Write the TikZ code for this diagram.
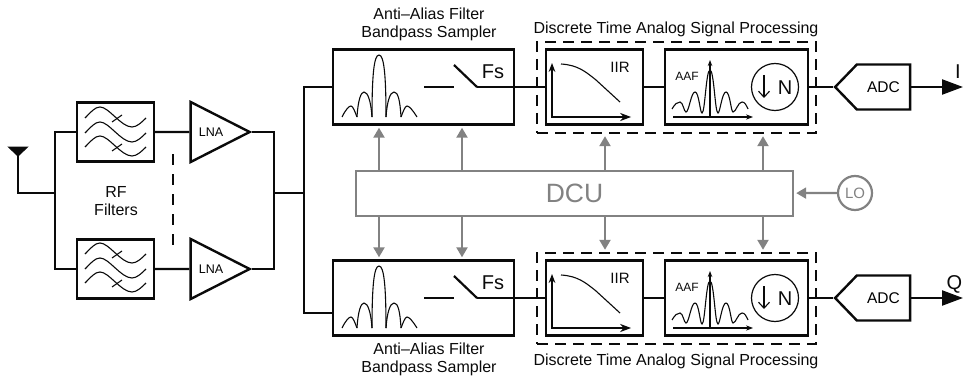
\documentclass[tikz,border=0pt]{standalone}
\usepackage{fontspec}
\setmainfont{Liberation Sans}
\usepackage{xcolor}
\usetikzlibrary{arrows.meta, calc, positioning, shapes.geometric, shapes.symbols}
\definecolor{dcugray}{RGB}{130, 130, 130}
\definecolor{inkblack}{RGB}{10, 10, 10}
% filter response, origin at the top left corner of the box
\newcommand{\rfwaves}{%
	\foreach \wy/\wt in {0/1, 15/0, 29/1}{
		\draw[trace] (8,\wy+15) .. controls (14,\wy+9) and (18,\wy+4) .. (23,\wy+4)
			.. controls (32,\wy+4) and (44,\wy+24) .. (55,\wy+24)
			.. controls (60,\wy+24) and (65,\wy+19) .. (69,\wy+15);
		\ifnum\wt=1
			\draw[trace] (35,\wy+19)--(45,\wy+12);
		\fi
	}}
% sinc lobes and switch blade of the sampler
\newcommand{\samplerglyph}{%
	\draw[trace] (342,117) .. controls (346,109) and (349,106) .. (351,106)
		.. controls (353,106) and (355,112) .. (357,117);
	\draw[trace] (357,117) .. controls (358,100) and (361,92) .. (364,92)
		.. controls (368,92) and (371,102) .. (372,117);
	\draw[trace] (372,117) .. controls (372,75) and (374,55) .. (379,55)
		.. controls (384,55) and (386,75) .. (386,117);
	\draw[trace] (386,117) .. controls (387,102) and (390,92) .. (394,92)
		.. controls (398,92) and (400,100) .. (401,117);
	\draw[trace] (401,117) .. controls (403,112) and (405,106) .. (407,106)
		.. controls (409,106) and (412,109) .. (417,117);
	\draw[wire] (424,87)--(454,87);
	\draw[wire] (454,65)--(477,87);}
\newcommand{\iirglyph}{%
	\draw[{Stealth[length=9pt]}-{Stealth[length=11pt]}, trace] (552,63)--(552,117)--(631,117);
	\draw[trace] (561,64) .. controls (578,65) and (586,72) .. (596,80) -- (620,102);}
\newcommand{\aafglyph}{%
	\draw[-{Stealth[length=7pt]}, trace] (673,117)--(753,117);
	\draw[-{Stealth[length=6pt]}, trace, line width=1.4pt] (710,117)--(710,60);
	\draw[trace] (672,109) .. controls (675,104) and (677,102) .. (680,102)
		.. controls (683,102) and (684,112) .. (686,112)
		.. controls (689,112) and (691,92) .. (695,92)
		.. controls (699,92) and (700,113) .. (702,113)
		.. controls (705,113) and (706,70) .. (710,70)
		.. controls (714,70) and (715,113) .. (718,113)
		.. controls (720,113) and (722,92) .. (726,92)
		.. controls (730,92) and (731,112) .. (733,112)
		.. controls (736,112) and (738,102) .. (742,102)
		.. controls (745,102) and (746,105) .. (748,109);
	\draw[-{Straight Barb[length=6pt,width=11pt]}, trace] (764,75)--(764,98);}
\tikzset{
	trace/.style={inkblack, line width=1.1pt},
	wire/.style={inkblack, line width=2.2pt},
	box/.style={draw=inkblack, line width=2.4pt, minimum width=#1, minimum height=75pt, inner sep=0pt},
	lna/.style={draw=inkblack, line width=2.4pt, isosceles triangle, isosceles triangle apex angle=54,
		isosceles triangle stretches, minimum width=60pt, minimum height=59pt, inner sep=0pt,
		font=\fontsize{12.5}{12.5}\selectfont},
	adcbox/.style={draw=inkblack, line width=2.4pt, signal, signal to=west, signal from=nowhere,
		signal pointer angle=92, minimum width=75pt, minimum height=45pt, inner sep=0pt,
		font=\fontsize{15.5}{15.5}\selectfont},
	decim/.style={draw=inkblack, line width=1.2pt, circle, minimum size=47pt, inner sep=0pt},
	dsp/.style={draw=inkblack, line width=2.4pt, dash pattern=on 11pt off 7pt, minimum width=279pt,
		minimum height=91pt, inner sep=0pt},
	ctl/.style={-{Triangle[length=10pt,width=11pt]}, dcugray, line width=2.2pt, shorten >=2pt},
	lab/.style={font=\fontsize{16}{18}\selectfont, align=center, text=inkblack},
	tag/.style={font=\fontsize{#1}{#1}\selectfont, text=inkblack},
	big/.style={font=\fontsize{20}{20}\selectfont, text=inkblack},
	outarrow/.style={-{Triangle[length=21pt,width=15pt]}, inkblack, line width=2.2pt},
}

\begin{document}
\begin{tikzpicture}[x=1pt, y=-1pt]
	\useasboundingbox (0,0) rectangle (963,377);

	%--- RF front end ---
	\coordinate (ant) at (18,150);
	\coordinate (split) at (55,193);
	\coordinate (merge) at (274,193);
	\coordinate (bus) at (304,193);
	\draw[inkblack, line width=1pt, fill=inkblack] (8.5,147)--(27.5,147)--(18,156)--cycle;
	\draw[wire] (ant)|-(split);
	\node[box=77pt, minimum height=59pt] (filtA) at (115.5,132) {};
	\node[box=77pt, minimum height=59pt] (filtB) at (115.5,269) {};
	\begin{scope}[shift={(77,103)}]\rfwaves\end{scope}
	\begin{scope}[shift={(77,239)}]\rfwaves\end{scope}
	\node[lna] (lnaA) at (211,132) {LNA};
	\node[lna] (lnaB) at (211,269) {LNA};
	\node[lab] (rfname) at (116,201) {RF\\Filters};
	\draw[inkblack, line width=1.2pt, dash pattern=on 11pt off 9pt] (173,154)--(173,245);
	\draw[wire] (filtA.west)-|(split)|-(filtB.west);
	\draw[wire] (filtA.east)--(lnaA.west);
	\draw[wire] (filtB.east)--(lnaB.west);
	\draw[wire] (lnaA.east)-|(merge)|-(lnaB.east);
	\draw[wire] (merge)--(bus);

	%--- Upper chain ---
	\begin{scope}
		\node[box=181pt] (sampU) at (423.5,87) {};
		\node[box=97pt] (iirU) at (594.5,87) {};
		\node[box=143pt] (aafU) at (736.5,87) {};
		\node[adcbox] (adcU) at (883.5,87) {ADC};
		\node[decim] (decU) at (775,87) {};
		\samplerglyph
		\iirglyph
		\aafglyph
		\node[big] (fsU) at (493,72) {Fs};
		\node[tag=15] (iirtxtU) at (620,67) {IIR};
		\node[tag=12] (aaftxtU) at (687,76) {AAF};
		\node[big] (downU) at (785,88) {N};
		\node[dsp] (dspU) at (676.5,87.5) {};
		\node[lab] (samptxtU) at (429,24) {Anti–Alias Filter\\Bandpass Sampler};
		\node[lab] (dsptxtU) at (676,29.5) {Discrete Time Analog Signal Processing};
		\coordinate (pivU) at (477,87);
		\coordinate (inU) at (304,87);
		\coordinate (endU) at (963,87);
		\node[big] (iU) at (958,72) {I};
		\draw[wire] (pivU)--(iirU.west);
		\draw[wire] (iirU.east)--(aafU.west);
		\draw[wire] (aafU.east)--(adcU.west);
		\draw[outarrow] (adcU.east)--(endU);
		\draw[wire] (bus)--(inU)--(sampU.west);
	\end{scope}

	%--- Lower chain ---
	\begin{scope}[yshift=-211pt]
		\node[box=181pt] (sampL) at (423.5,87) {};
		\node[box=97pt] (iirL) at (594.5,87) {};
		\node[box=143pt] (aafL) at (736.5,87) {};
		\node[adcbox] (adcL) at (883.5,87) {ADC};
		\node[decim] (decL) at (775,87) {};
		\samplerglyph
		\iirglyph
		\aafglyph
		\node[big] (fsL) at (493,72) {Fs};
		\node[tag=15] (iirtxtL) at (620,67) {IIR};
		\node[tag=12] (aaftxtL) at (687,76) {AAF};
		\node[big] (downL) at (785,88) {N};
		\node[dsp] (dspL) at (676.5,87.5) {};
		\node[lab] (samptxtL) at (429,148.5) {Anti–Alias Filter\\Bandpass Sampler};
		\node[lab] (dsptxtL) at (676,150) {Discrete Time Analog Signal Processing};
		\coordinate (pivL) at (477,87);
		\coordinate (inL) at (304,102);
		\coordinate (endL) at (963,87);
		\node[big] (qL) at (954.5,73) {Q};
		\draw[wire] (pivL)--(iirL.west);
		\draw[wire] (iirL.east)--(aafL.west);
		\draw[wire] (aafL.east)--(adcL.west);
		\draw[outarrow] (adcL.east)--(endL);
		\draw[wire] (bus)--(inL)--(sampL.west |- inL);
	\end{scope}

	%--- DCU and control lines ---
	\node[draw=dcugray, line width=2.4pt, minimum width=437pt, minimum height=45pt, text=dcugray,
		font=\fontsize{26.5}{26.5}\selectfont] (dcu) at (574.5,193.5) {DCU};
	\node[draw=dcugray, line width=2.2pt, circle, minimum size=34pt, inner sep=0pt, text=dcugray,
		font=\fontsize{15}{15}\selectfont] (lo) at (855,193) {LO};
	\draw[ctl] (lo)--(dcu);
	\coordinate (ctlA) at (379,0);
	\coordinate (ctlB) at (462,0);
	\coordinate (ctlC) at (605,0);
	\coordinate (ctlD) at (763,0);
	\draw[ctl] (dcu.north -| ctlA)--(ctlA |- sampU.south);
	\draw[ctl] (dcu.north -| ctlB)--(ctlB |- sampU.south);
	\draw[ctl] (dcu.north -| ctlC)--(ctlC |- dspU.south);
	\draw[ctl] (dcu.north -| ctlD)--(ctlD |- dspU.south);
	\draw[ctl] (dcu.south -| ctlA)--(ctlA |- sampL.north);
	\draw[ctl] (dcu.south -| ctlB)--(ctlB |- sampL.north);
	\draw[ctl] (dcu.south -| ctlC)--(ctlC |- dspL.north);
	\draw[ctl] (dcu.south -| ctlD)--(ctlD |- dspL.north);
\end{tikzpicture}
\end{document}
